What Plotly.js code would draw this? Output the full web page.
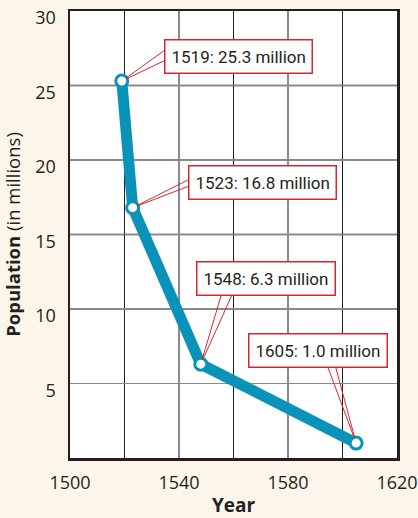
<!DOCTYPE html>
<html>
<head>
<meta charset="utf-8">
<script src="https://cdn.plot.ly/plotly-3.0.1.min.js"></script>
<style>html,body{margin:0;padding:0;background:#fcf5e9;}#chart{width:418px;height:518px;}</style>
</head>
<body>
<div id="chart"></div>
<script>
// Data
var years = [1519, 1523, 1548, 1605];
var population = [25.3, 16.8, 6.3, 1.0];
var labels = ["1519: 25.3 million", "1523: 16.8 million", "1548: 6.3 million", "1605: 1.0 million"];
var xTickVals = [1500, 1540, 1580, 1620];
var xTickText = ["1500", "1540", "1580", "1620"];
var yTickVals = [5, 10, 15, 20, 25, 30];
var yTickText = ["5", "10", "15", "20", "25", "30"];
var yDarkGrid = [15, 25];

// Callout placement (pixel offsets from each point)
var boxShift = [[117, 25], [130, 25], [65, 86], [-38, 93]];
var wedgeA = [[46, -33], [60, -30], [21, -71], [-29, -78]];
var wedgeB = [[46, -22], [60, -23], [32, -71], [-21, -78]];

var red = '#d7262f';
var teal = '#0a93b8';
var font = 'Liberation Sans Narrow, Arial Narrow, Roboto, sans-serif';
var tickFont = {family: 'Open Sans, Liberation Sans, sans-serif', size: 18, color: '#231f20'};

var annotations = [];
for (var i = 0; i < years.length; i++) {
  [wedgeA[i], wedgeB[i]].forEach(function (w) {
    annotations.push({
      x: years[i], y: population[i], xref: 'x', yref: 'y',
      text: ' ', font: {size: 1},
      showarrow: true, arrowhead: 0, arrowwidth: 1, arrowcolor: red,
      ax: w[0], ay: w[1], standoff: 5, startstandoff: 0
    });
  });
}
for (var j = 0; j < years.length; j++) {
  annotations.push({
    x: years[j], y: population[j], xref: 'x', yref: 'y',
    text: labels[j], showarrow: false,
    xshift: boxShift[j][0], yshift: boxShift[j][1],
    bgcolor: '#ffffff', bordercolor: red, borderwidth: 1.5, borderpad: 6,
    font: {family: font, size: 17, color: '#231f20'}
  });
}

var shapes = yDarkGrid.map(function (v) {
  return {type: 'line', xref: 'paper', yref: 'y', x0: 0, x1: 1, y0: v, y1: v,
    line: {color: '#231f20', width: 1.3}, layer: 'below'};
});

var trace = {
  x: years, y: population, type: 'scatter', mode: 'lines+markers',
  line: {color: teal, width: 11},
  marker: {size: 12, color: '#ffffff', line: {color: teal, width: 3}},
  hoverinfo: 'skip'
};

var layout = {
  width: 418, height: 518,
  margin: {l: 70, r: 21, t: 11, b: 60},
  paper_bgcolor: '#fcf5e9', plot_bgcolor: '#ffffff',
  showlegend: false,
  xaxis: {
    range: [1500, 1620], tickmode: 'array', tickvals: xTickVals, ticktext: xTickText,
    tickfont: tickFont, ticks: '', ticklabelstandoff: 7, ticklabeloverflow: 'allow',
    showgrid: true, gridcolor: '#8a8a8a', gridwidth: 1.3,
    minor: {tick0: 1500, dtick: 20, showgrid: true, gridcolor: '#231f20', gridwidth: 1.3, ticks: ''},
    showline: true, linecolor: '#231f20', linewidth: 2.5, mirror: true, zeroline: false,
    title: {text: '<b>Year</b>', font: {family: 'Open Sans, sans-serif', size: 19, color: '#231f20'}, standoff: 10}
  },
  yaxis: {
    range: [0, 30], tickmode: 'array', tickvals: yTickVals, ticktext: yTickText,
    tickfont: tickFont, ticks: '', ticklabelstandoff: 8, ticklabelshift: 7, ticklabeloverflow: 'allow',
    showgrid: true, gridcolor: '#8a8a8a', gridwidth: 1.3,
    showline: true, linecolor: '#231f20', linewidth: 2.5, mirror: true, zeroline: false,
    title: {text: '<b>Population</b> (in millions)', font: {family: 'Open Sans, sans-serif', size: 18.5, color: '#231f20'}, standoff: 10}
  },
  annotations: annotations,
  shapes: shapes
};

Plotly.newPlot('chart', [trace], layout, {displayModeBar: false, staticPlot: true});
</script>
</body>
</html>
